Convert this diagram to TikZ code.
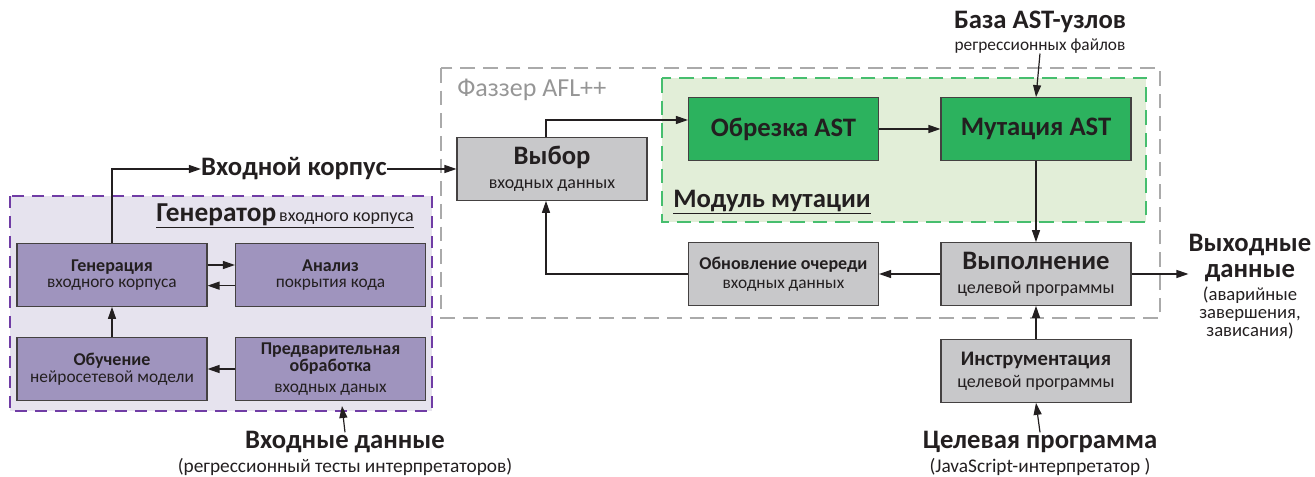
\documentclass[tikz,border=0pt]{standalone}
\usepackage{fontspec}
\setmainfont{Carlito}
\usetikzlibrary{positioning,arrows.meta}
\definecolor{GenBand}{RGB}{230,227,238}
\definecolor{GenBox}{RGB}{159,148,190}
\definecolor{GenLine}{RGB}{112,60,165}
\definecolor{AflLine}{RGB}{170,170,170}
\definecolor{AflText}{RGB}{150,150,150}
\definecolor{GreyBox}{RGB}{200,200,202}
\definecolor{MutBand}{RGB}{226,238,216}
\definecolor{MutLine}{RGB}{70,190,110}
\definecolor{MutBox}{RGB}{44,178,94}
\definecolor{InkDark}{RGB}{35,31,32}
\tikzset{
  flow/.style={-{Triangle[length=9pt,width=6pt]},line width=0.9pt,draw=InkDark},
  box/.style={draw=InkDark!85,line width=0.8pt,minimum width=142.5pt,
    minimum height=47pt,align=center,inner sep=2pt,text=InkDark,
    font=\fontsize{13}{12.5}\selectfont},
  purplebox/.style={box,fill=GenBox},
  greybox/.style={box,fill=GreyBox},
  greenbox/.style={box,fill=MutBox,font=\fontsize{20}{22}\selectfont\bfseries},
  headtext/.style={align=center,text=InkDark,inner sep=0pt,
    font=\fontsize{20}{18}\selectfont\bfseries},
  subtext/.style={align=center,text=InkDark,inner sep=0pt,
    font=\fontsize{13}{12.5}\selectfont}
}

\begin{document}
\begin{tikzpicture}[x=0.75pt,y=-0.75pt]
  \useasboundingbox (0,0) rectangle (1315,477);
  % containers
  \draw[GenLine,fill=GenBand,line width=0.9pt,dash pattern=on 9pt off 6pt] (10,196) rectangle (432,411);
  \draw[AflLine,line width=0.9pt,dash pattern=on 11pt off 6pt] (441,68) rectangle (1160,318);
  \draw[MutLine,fill=MutBand,line width=0.9pt,dash pattern=on 11pt off 6pt] (662,78) rectangle (1146,222);
  \coordinate (genbot) at (342,406);

  % generator of the input corpus
  \node[purplebox] (gen) at (112,275) {{\fontsize{13.5}{14}\selectfont\bfseries Генерация}\\входного корпуса};
  \node[purplebox] (anal) at (330.5,275) {{\fontsize{13.5}{14}\selectfont\bfseries Анализ}\\покрытия кода};
  \node[purplebox] (train) at (112,369) {{\fontsize{13.5}{14}\selectfont\bfseries Обучение}\\нейросетевой модели};
  \node[purplebox] (prep) at (330.5,369) {{\fontsize{13.5}{14}\selectfont\bfseries Предварительная}\\{\fontsize{13.5}{14}\selectfont\bfseries обработка}\\[3pt]входных даных};
  \node[anchor=east,text=InkDark,inner sep=0pt] (genTitle) at (414,216)
    {\underline{{\fontsize{20.5}{22}\selectfont\bfseries Генератор} {\fontsize{13.5}{14}\selectfont входного корпуса}}};

  % fuzzer
  \node[anchor=west,text=AflText,inner sep=0pt,font=\fontsize{19.5}{20}\selectfont] (aflTitle) at (457,90) {Фаззер AFL++};
  \node[greybox,font=\fontsize{13.5}{18}\selectfont] (pick) at (552,169) {{\fontsize{20}{22}\selectfont\bfseries Выбор}\\входных данных};
  \node[greenbox] (cut) at (783.5,129) {Обрезка AST};
  \node[greenbox] (mut) at (1036,129) {Мутация AST};
  \node[anchor=west,text=InkDark,inner sep=0pt,font=\fontsize{20}{22}\selectfont\bfseries] (modTitle) at (673,202) {\underline{Модуль мутации}};
  \node[greybox,font=\fontsize{13.5}{18}\selectfont] (run) at (1036,274) {{\fontsize{20}{22}\selectfont\bfseries Выполнение}\\целевой программы};
  \node[greybox] (upd) at (783.5,274) {{\fontsize{13.5}{14}\selectfont\bfseries Обновление очереди}\\[2pt]входных данных};
  \node[greybox,font=\fontsize{13.5}{16.5}\selectfont] (instr) at (1036,371) {{\fontsize{15.5}{16}\selectfont\bfseries Инструментация}\\целевой программы};

  % outer texts
  \node[headtext] (corpus) at (294,169) {Входной корпус};
  \node[headtext] (inTitle) at (345,442) {Входные данные};
  \node[subtext,font=\fontsize{14.5}{14}\selectfont] (inSub) at (345,467) {(регрессионный тесты интерпретаторов)};
  \node[headtext] (astTitle) at (1040,22) {База AST-узлов};
  \node[subtext] (astSub) at (1040,46) {регрессионных файлов};
  \node[headtext] (tgtTitle) at (1040,442) {Целевая программа};
  \node[subtext,font=\fontsize{14.5}{14}\selectfont] (tgtSub) at (1040,467) {(JavaScript-интерпретатор )};
  \node[headtext,font=\fontsize{20}{20}\selectfont\bfseries] (outTitle) at (1250,258) {Выходные\\данные};
  \node[subtext,font=\fontsize{14}{13.5}\selectfont] (outSub) at (1250,313) {(аварийные\\завершения,\\зависания)};

  % connectors
  \draw[flow] ([yshift=7.5pt]gen.east) -- ([yshift=7.5pt]anal.west);
  \draw[flow] ([yshift=-8pt]anal.west) -- ([yshift=-8pt]gen.east);
  \draw[flow] (train.north) -- (gen.south);
  \draw[flow] (prep.west) -- (train.east);
  \draw[flow] ([yshift=-1pt]inTitle.north) -- (genbot);
  \draw[flow] (gen.north) |- (corpus.west);
  \draw[flow] (corpus.east) -- (pick.west);
  \draw[flow] ([xshift=-4.5pt]pick.north) |- ([yshift=6.75pt]cut.west);
  \draw[flow] (cut.east) -- (mut.west);
  \draw[flow] (astSub.south) -- (mut.north);
  \draw[flow] (mut.south) -- (run.north);
  \draw[flow] (run.west) -- (upd.east);
  \draw[flow] (upd.west) -| ([xshift=-4.5pt]pick.south);
  \draw[flow] (run.east) -- (run.east -| outTitle.west);
  \draw[flow] (instr.north) -- (run.south);
  \draw[flow] ([yshift=-1pt]tgtTitle.north) -- (instr.south);
\end{tikzpicture}
\end{document}
